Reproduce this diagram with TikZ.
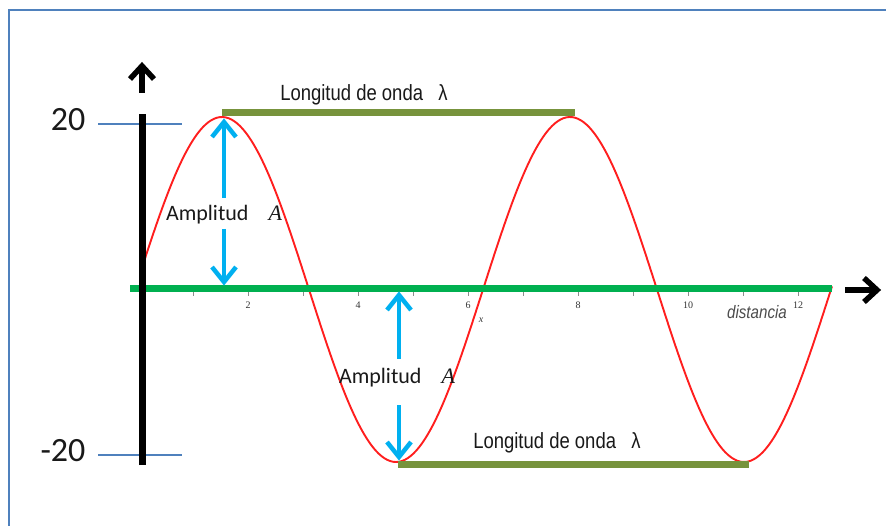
\documentclass[tikz,border=0pt]{standalone}
\usepackage{fontspec}
\setmainfont{Carlito}
\newfontfamily\narrowfont{Liberation Sans}[FakeStretch=0.84]
\newfontfamily\timesfont{Liberation Serif}
\usetikzlibrary{arrows.meta}
\definecolor{axgreen}{RGB}{0,176,80}
\definecolor{olivebar}{RGB}{119,147,60}
\definecolor{ampcyan}{RGB}{0,176,240}
\definecolor{frameblue}{RGB}{79,129,189}
\definecolor{sinered}{RGB}{255,30,30}
\tikzset{
  frameline/.style={draw=frameblue, line width=1.8pt},
  levelline/.style={draw=frameblue, line width=1.1pt},
  yaxisline/.style={draw=black, line width=7pt},
  xaxisline/.style={draw=axgreen, line width=7pt},
  axtip/.style={draw=black, line width=5.5pt, line join=miter, line cap=butt},
  wavebar/.style={draw=olivebar, line width=7pt},
  ampline/.style={draw=ampcyan, line width=4.5pt},
  ampchev/.style={draw=ampcyan, line width=4.5pt, line join=miter},
  ticklab/.style={font=\timesfont\fontsize{10}{12}\selectfont, text=black!80, inner sep=0pt},
  wavelab/.style={font=\narrowfont\fontsize{22}{25}\selectfont, text=black!90, inner sep=0pt},
  amplab/.style={font=\fontsize{22}{26}\selectfont, text=black!90, inner sep=0pt},
  levellab/.style={font=\fontsize{34}{38}\selectfont, text=black!90, inner sep=0pt},
}
\begin{document}
\begin{tikzpicture}[x=1pt,y=-1pt]
\useasboundingbox (0,0) rectangle (886,526);
% frame
\draw[frameline] (9,526) -- (9,10) -- (886,10);
% level lines and labels
\node[levellab] (l20) at (68,120) {20};
\node[levellab] (lm20) at (63,451) {-20};
\coordinate (t20a) at (98,124);
\coordinate (t20b) at (182,124);
\coordinate (tm20a) at (98,455);
\coordinate (tm20b) at (182,455);
\draw[levelline] (t20a) -- (t20b);
\draw[levelline] (tm20a) -- (tm20b);
% sine wave
\draw[sinered, line width=1.9pt, domain=142:832, samples=240, smooth]
  plot (\x, {289.5-172.5*sin(1.034483*(\x-135))});
% ticks
\foreach \i in {1,...,12} {
  \draw[black!45, line width=0.6pt] (138+55*\i,292) -- (138+55*\i,296);
}
\foreach \i in {2,4,...,12} {
  \node[ticklab] (tk\i) at (138+55*\i,305) {\i};
}
\node[ticklab, font=\timesfont\itshape\fontsize{10}{12}\selectfont] (xlab) at (481,320) {x};
\node[font=\narrowfont\itshape\fontsize{18}{21}\selectfont, text=black!70, inner sep=0pt] (dist) at (757,312) {distancia};
% axes
\coordinate (xa0) at (130,289);
\coordinate (xa1) at (832,289);
\draw[xaxisline] (xa0) -- (xa1);
\coordinate (ya0) at (142,465);
\coordinate (ya1) at (142,114);
\draw[yaxisline] (ya0) -- (ya1);
% axis arrow heads
\coordinate (yt0) at (142,93);
\coordinate (yt1) at (142,66);
\draw[axtip] (yt0) -- (yt1);
\draw[axtip] ([shift={(-12,13)}]yt1) -- (yt1) -- ([shift={(12,13)}]yt1);
\coordinate (xt0) at (845,290);
\coordinate (xt1) at (877,290);
\draw[axtip] (xt0) -- (xt1);
\draw[axtip] ([shift={(-13,-12)}]xt1) -- (xt1) -- ([shift={(-13,12)}]xt1);
% wavelength bars
\coordinate (pk1) at (222,113);
\coordinate (pk2) at (575,113);
\draw[wavebar] (pk1) -- (pk2);
\node[wavelab] (wl1) at (364,95) {Longitud de onda \ \ λ};
\coordinate (tr1) at (398,464);
\coordinate (tr2) at (749,464);
\draw[wavebar] (tr1) -- (tr2);
\node[wavelab] (wl2) at (557,443) {Longitud de onda \ \ λ};
% amplitude arrows (upper)
\node[amplab] (amp1) at (224,215) {Amplitud\hspace{20pt}{\timesfont\itshape A}};
\coordinate (a1top) at (224,198);
\coordinate (a1tip) at (224,122);
\coordinate (a1bot) at (224,229);
\coordinate (a1tip2) at (224,282);
\draw[ampline] (a1top) -- (a1tip);
\draw[ampchev] ([shift={(-12,15)}]a1tip) -- (a1tip) -- ([shift={(12,15)}]a1tip);
\draw[ampline] (a1bot) -- (a1tip2);
\draw[ampchev] ([shift={(-12,-15)}]a1tip2) -- (a1tip2) -- ([shift={(12,-15)}]a1tip2);
% amplitude arrows (lower)
\node[amplab] (amp2) at (397,378) {Amplitud\hspace{20pt}{\timesfont\itshape A}};
\coordinate (a2top) at (399,359);
\coordinate (a2tip) at (399,295);
\coordinate (a2bot) at (399,405);
\coordinate (a2tip2) at (399,457);
\draw[ampline] (a2top) -- (a2tip);
\draw[ampchev] ([shift={(-12,15)}]a2tip) -- (a2tip) -- ([shift={(12,15)}]a2tip);
\draw[ampline] (a2bot) -- (a2tip2);
\draw[ampchev] ([shift={(-12,-15)}]a2tip2) -- (a2tip2) -- ([shift={(12,-15)}]a2tip2);
\end{tikzpicture}
\end{document}
